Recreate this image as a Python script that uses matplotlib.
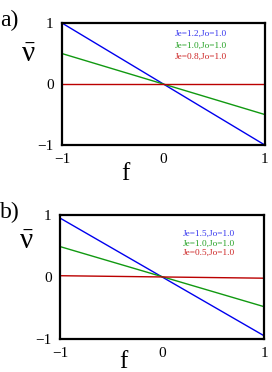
import matplotlib
matplotlib.use("Agg")
import matplotlib.pyplot as plt
import numpy as np

plt.rcParams['font.family'] = ['Liberation Serif', 'DejaVu Serif']
plt.rcParams['mathtext.fontset'] = 'custom'
plt.rcParams['mathtext.rm'] = 'Liberation Serif'
plt.rcParams['mathtext.it'] = 'Liberation Serif:italic'

f_vals = [-1, 1]
# panel a
a_labels = ["Je=1.2,Jo=1.0", "Je=1.0,Jo=1.0", "Je=0.8,Jo=1.0"]
a_blue = [1.0, -1.0]
a_green = [0.5, -0.5]
a_red = [0.0, 0.0]
# panel b
b_labels = ["Je=1.5,Jo=1.0", "Je=1.0,Jo=1.0", "Je=0.5,Jo=1.0"]
b_blue = [0.95, -0.95]
b_green = [0.49, -0.48]
b_red = [0.02, -0.02]

colors = ["#3333ee", "#22a022", "#cc2222"]
line_colors = ["#0000ee", "#119911", "#bb0000"]

fig = plt.figure(figsize=(2.72, 3.72), dpi=100)

NU = "$\\bar{\\mathrm{\u03bd}}$"

def panel(rect, series, labels, tag, text_x, text_y0, dy, nu_y, f_y):
    ax = fig.add_axes(rect)
    for ys, c in zip(series, line_colors):
        ax.plot(f_vals, ys, color=c, lw=1.0)
    ax.set_xlim(-1, 1)
    ax.set_ylim(-1, 1)
    ax.set_xticks([-1, 0, 1])
    ax.set_yticks([-1, 0, 1])
    ax.set_xticklabels(["\u22121", "0", "1"])
    ax.set_yticklabels(["\u22121", "0", "1"])
    ax.tick_params(length=0, labelsize=11, pad=6)
    for s in ax.spines.values():
        s.set_linewidth(1.6)
    for i, (lab, c) in enumerate(zip(labels, colors)):
        ax.text(text_x, text_y0 - i * dy, lab, color=c, fontsize=6.7,
                transform=ax.transAxes, ha='left', va='center')
    ax.text(0.31, f_y, "f", transform=ax.transAxes, ha='center', va='baseline', fontsize=18)
    ax.text(-0.165, nu_y, NU, transform=ax.transAxes,
            ha='center', va='center', fontsize=21)
    fig.text(0.0, rect[1] + rect[3] + 0.008, tag, fontsize=17, ha='left', va='center')
    return ax

panel([0.228, 0.610, 0.746, 0.328], [a_blue, a_green, a_red], a_labels, "a)",
      0.557, 0.91, 0.094, 0.74, -0.285)
panel([0.221, 0.089, 0.750, 0.333], [b_blue, b_green, b_red], b_labels, "b)",
      0.60, 0.847, 0.077, 0.78, -0.235)

fig.savefig("out.png", dpi=100)
